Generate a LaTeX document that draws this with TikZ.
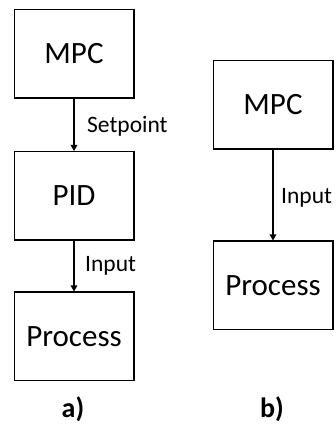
\documentclass[tikz,border=0pt]{standalone}
\usepackage{fontspec}
\setmainfont{Carlito}
\usetikzlibrary{arrows.meta}
\begin{document}
\begin{tikzpicture}[x=1pt,y=1pt,
  block/.style={draw, line width=1.5pt, minimum width=119.5pt, minimum height=88.5pt,
    inner sep=0pt, font=\fontsize{31}{37}\selectfont},
  flow/.style={line width=1.5pt, -{Triangle[length=6pt,width=6.5pt]}},
  lbl/.style={anchor=west, inner sep=0pt, font=\fontsize{23.5}{28}\selectfont},
  tag/.style={font=\fontsize{28}{34}\selectfont\bfseries}]
  \useasboundingbox (0,0) rectangle (336,425);
  % a) cascaded MPC + PID
  \node[block] (mpcA) at (74,371) {MPC};
  \node[block] (pidA) at (74,229) {PID};
  \node[block] (procA) at (74,88.5) {Process};
  \draw[flow] (mpcA) -- (pidA);
  \draw[flow] (pidA) -- (procA);
  \node[lbl] (spA) at (87,299) {Setpoint};
  \node[lbl] (inA) at (85,159) {Input};
  \node[tag] (capA) at (73,16) {a)};
  % b) direct MPC
  \node[block] (mpcB) at (273,320) {MPC};
  \node[block] (procB) at (273,139.5) {Process};
  \draw[flow] (mpcB) -- (procB);
  \node[lbl] (inB) at (281,227) {Input};
  \node[tag] (capB) at (272,16) {b)};
\end{tikzpicture}
\end{document}
